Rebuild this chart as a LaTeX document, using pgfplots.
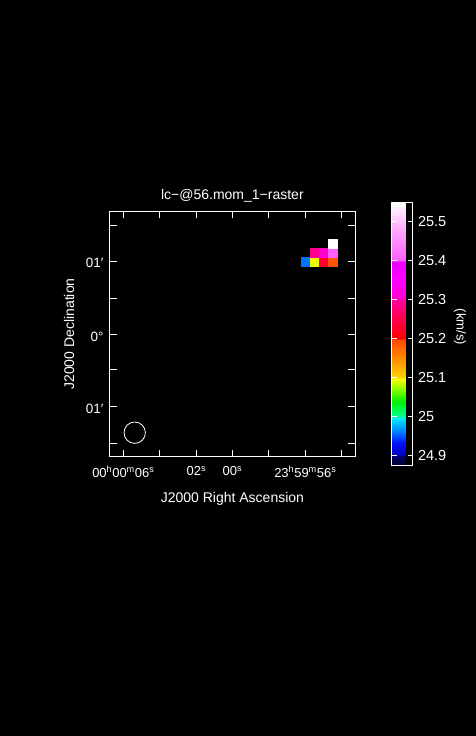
\documentclass[border=0pt]{standalone}
\usepackage{pgfplots}
\pgfplotsset{compat=1.18}
\usepackage{fontspec}
\setmainfont{Liberation Sans}
\pgfplotstableread{
x y v
305.5 474.5 24.958
314.5 474.5 25.095
323.5 474.5 25.233
332.5 474.5 25.190
314.5 483.5 25.295
323.5 483.5 25.305
332.5 483.5 25.405
332.5 492.5 25.550
}\pixels
\begin{document}
\begin{tikzpicture}
\useasboundingbox (0pt,0pt) rectangle (476pt,736pt);
\fill[black] (0pt,0pt) rectangle (476pt,736pt);
\begin{axis}[
  at={(109.5pt,279.3pt)}, anchor=south west,
  scale only axis, width=245.8pt, height=245.4pt,
  xmin=109.5, xmax=355.3, ymin=279.3, ymax=524.7,
  axis line style={white, line width=0.8pt},
  tick style={white, line width=0.8pt},
  tick align=inside, major tick length=7pt,
  xtick pos=both, ytick pos=both, xticklabel pos=lower, yticklabel pos=left,
  xtick={123.3,159.3,196.3,232.3,268.3,305.3,341.7},
  xticklabels={{00\textsuperscript{h}00\textsuperscript{m}06\textsuperscript{s}},{},{02\textsuperscript{s}},{00\textsuperscript{s}},{},{23\textsuperscript{h}59\textsuperscript{m}56\textsuperscript{s}},{}},
  ytick={510.3,474.7,437.3,401.3,366.3,329.3,292.7},
  yticklabels={{},{01′},{},{0°},{},{01′},{}},
  xticklabel style={white, font=\fontsize{13}{15}\selectfont, yshift=-6pt},
  yticklabel style={white, font=\fontsize{13.5}{15}\selectfont, yshift=-2pt, xshift=-2.5pt},
  title={lc−@56.mom\_1−raster},
  title style={white, font=\fontsize{14}{16}\selectfont, at={(axis description cs:0.5,1.0228)}, anchor=base},
  xlabel={J2000 Right Ascension},
  xlabel style={white, font=\fontsize{14}{16}\selectfont, at={(axis description cs:0.5,-0.1886)}, anchor=base},
  ylabel={J2000 Declination},
  ylabel style={white, font=\fontsize{14}{16}\selectfont, at={(axis description cs:-0.1444,0.5)}, anchor=base},
  colormap={casa}{
    rgb255(0pt)=(0,0,45);
    rgb255(25pt)=(0,0,100);
    rgb255(26pt)=(0,0,190);
    rgb255(60pt)=(0,20,255);
    rgb255(88pt)=(0,130,255);
    rgb255(125pt)=(0,245,255);
    rgb255(126pt)=(0,255,150);
    rgb255(165pt)=(0,240,0);
    rgb255(200pt)=(150,255,0);
    rgb255(225pt)=(255,255,0);
    rgb255(226pt)=(255,210,0);
    rgb255(325pt)=(255,70,0);
    rgb255(326pt)=(255,0,0);
    rgb255(425pt)=(255,0,150);
    rgb255(426pt)=(255,0,200);
    rgb255(475pt)=(255,0,255);
    rgb255(525pt)=(230,0,255);
    rgb255(526pt)=(255,90,255);
    rgb255(610pt)=(255,175,255);
    rgb255(676pt)=(255,255,255)
  },
  point meta min=24.874, point meta max=25.55,
  colorbar,
  colorbar style={
    name=cbar,
    at={(parent axis.north east)}, anchor=north west, xshift=27.7pt, yshift=8.9pt,
    scale only axis, width=21pt, height=263.3pt,
    axis line style={white, line width=0.8pt},
    ytick={24.9,25,25.1,25.2,25.3,25.4,25.5},
    yticklabel pos=right,
    yticklabel style={white, xshift=2pt, font=\fontsize{14.5}{16}\selectfont, /pgf/number format/assume math mode=true, /pgf/number format/fixed, /pgf/number format/precision=1},
    ylabel={(km/s)},
    ylabel style={white, font=\fontsize{13}{15}\selectfont, rotate=180, at={(axis description cs:3.1,0.527)}, anchor=base},
  },
]
\addplot[scatter, only marks, mark=square*, mark size=4.5pt, point meta=explicit,
  scatter/use mapped color={draw=mapped color, fill=mapped color}]
  table[x=x, y=y, meta=v] {\pixels};
\addplot[only marks, mark=o, mark size=10.7pt, white, line width=0.8pt] coordinates {(134.7,303.3)};
\end{axis}
\begin{axis}[
  at={(cbar.south west)}, anchor=south west,
  scale only axis, width=21pt, height=263.3pt,
  xmin=0, xmax=1, ymin=24.874, ymax=25.55,
  xtick=\empty, ytick=\empty,
  axis line style={white, line width=0.8pt},
  unbounded coords=jump,
]
\addplot[white, line width=1pt] coordinates {
(0,24.9) (0.24,24.9) (nan,nan) (0.76,24.9) (1,24.9) (nan,nan)
(0,25.0) (0.24,25.0) (nan,nan) (0.76,25.0) (1,25.0) (nan,nan)
(0,25.1) (0.24,25.1) (nan,nan) (0.76,25.1) (1,25.1) (nan,nan)
(0,25.2) (0.24,25.2) (nan,nan) (0.76,25.2) (1,25.2) (nan,nan)
(0,25.3) (0.24,25.3) (nan,nan) (0.76,25.3) (1,25.3) (nan,nan)
(0,25.4) (0.24,25.4) (nan,nan) (0.76,25.4) (1,25.4) (nan,nan)
(0,25.5) (0.24,25.5) (nan,nan) (0.76,25.5) (1,25.5)
};
\end{axis}
\end{tikzpicture}
\end{document}
